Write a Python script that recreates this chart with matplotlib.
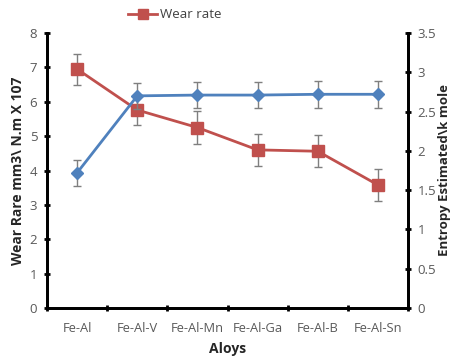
import matplotlib
matplotlib.use("Agg")
import matplotlib.pyplot as plt
from matplotlib.lines import Line2D
import numpy as np

categories = ["Fe-Al", "Fe-Al-V", "Fe-Al-Mn", "Fe-Al-Ga", "Fe-Al-B", "Fe-Al-Sn"]
wear_rate = [6.95, 5.76, 5.25, 4.60, 4.56, 3.58]
wear_err = [0.45, 0.45, 0.47, 0.47, 0.47, 0.47]
entropy = [1.72, 2.70, 2.71, 2.71, 2.72, 2.72]
entropy_err = [0.17, 0.17, 0.17, 0.17, 0.17, 0.17]

plt.rcParams['font.family'] = ['Open Sans', 'DejaVu Sans']

red = "#C0504D"
blue = "#4F81BD"
grey = "#595959"

fig = plt.figure(figsize=(4.5, 3.56), dpi=100)
ax = fig.add_axes([47/450, 1-308/356, (408-47)/450, (308-33)/356])
ax2 = ax.twinx()

x = np.arange(len(categories))

ax.errorbar(x, wear_rate, yerr=wear_err, color=red, lw=2, marker="s", ms=9,
            mfc=red, mec=red, ecolor="#7f7f7f", elinewidth=1, capsize=3, capthick=1,
            zorder=3)
ax2.errorbar(x, entropy, yerr=entropy_err, color=blue, lw=2, marker="D", ms=6.5,
             mfc=blue, mec=blue, ecolor="#7f7f7f", elinewidth=1, capsize=3, capthick=1,
             zorder=3)

ax.set_xlim(-0.5, len(categories) - 0.5)
ax.set_ylim(0, 8)
ax2.set_ylim(0, 3.5)
ax.set_yticks(np.arange(0, 9, 1))
ax2.set_yticks(np.arange(0, 3.51, 0.5))
ax2.set_yticklabels(["0", "0.5", "1", "1.5", "2", "2.5", "3", "3.5"])

ax.set_xticks(x)
ax.set_xticklabels(categories)
ax.set_xticks(np.arange(-0.5, len(categories), 1), minor=True)
ax.tick_params(axis="x", which="major", length=0, pad=10, labelsize=9.3, labelcolor=grey)
ax.tick_params(axis="x", which="minor", length=4, width=2, direction="inout")

ax.tick_params(axis="y", length=4, width=2, direction="inout", labelsize=9.5, labelcolor=grey, pad=5)
ax2.tick_params(axis="y", length=4, width=2, direction="inout", labelsize=9.5, labelcolor=grey, pad=5)

for a in (ax, ax2):
    a.spines["top"].set_visible(False)
    for s in ("left", "right", "bottom"):
        a.spines[s].set_linewidth(2)
        a.spines[s].set_color("black")

ax.set_xlabel("Aloys", fontsize=10, fontweight="bold", color="#262626", labelpad=5)
ax.set_ylabel("Wear Rare mm3\\ N.m X 107", fontsize=10, fontweight="bold", color="#262626", labelpad=3)
ax2.set_ylabel("Entropy Estimated\\k mole", fontsize=9.5, fontweight="bold", color="#262626", labelpad=1)

handle = Line2D([], [], color=red, lw=2, marker="s", ms=7, mfc=red, mec=red)
leg = fig.legend([handle], ["Wear rate"], loc="center", bbox_to_anchor=(175/450, 1-15/356), frameon=False,
                 fontsize=9.5, handlelength=2.2, handletextpad=0.2, borderpad=0)
for t in leg.get_texts():
    t.set_color("#404040")

fig.savefig("out.png", dpi=100)
